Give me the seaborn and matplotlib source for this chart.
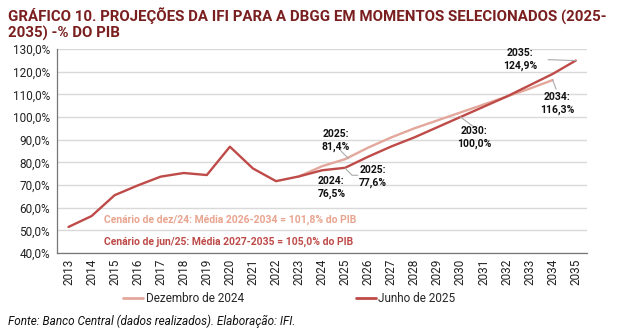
import matplotlib
matplotlib.use("Agg")
import matplotlib.pyplot as plt
import seaborn as sns
import pandas as pd
import numpy as np
from matplotlib.lines import Line2D

years_jun = list(range(2013, 2036))
vals_jun = [51.5, 56.3, 65.5, 69.8, 73.7, 75.3, 74.4, 86.9, 77.3, 71.7, 73.8, 76.5, 77.6,
            82.5, 87.0, 91.0, 95.5, 100.0, 104.5, 109.0, 114.0, 119.0, 124.9]
years_dez = list(range(2023, 2035))
vals_dez = [73.8, 78.3, 81.4, 86.5, 91.0, 95.0, 98.5, 102.0, 105.5, 109.0, 112.5, 116.3]

yticks = [40, 50, 60, 70, 80, 90, 100, 110, 120, 130]

c_jun = "#BE4B48"
c_dez = "#E3A79C"
c_title = "#7A1F1F"

sns.set_theme(style="white")
plt.rcParams['font.family'] = ['Roboto', 'DejaVu Sans']

df = pd.concat([
    pd.DataFrame({"ano": years_dez, "valor": vals_dez, "serie": "Dezembro de 2024"}),
    pd.DataFrame({"ano": years_jun, "valor": vals_jun, "serie": "Junho de 2025"}),
])

fig = plt.figure(figsize=(6.18, 3.29), dpi=100)
ax = fig.add_axes([0.0922, 0.231, 0.858, 0.620])

sns.lineplot(data=df, x="ano", y="valor", hue="serie",
             palette={"Dezembro de 2024": c_dez, "Junho de 2025": c_jun},
             linewidth=1.7, ax=ax, legend=False, sort=True)

ax.set_xlim(2012.5, 2035.5)
ax.set_ylim(40, 130)
ax.set_yticks(yticks)
ax.set_yticklabels([f"{v:.1f}%".replace(".", ",") for v in yticks], fontsize=8.5, color="#222222")
ax.yaxis.grid(True, color="#d9d9d9", linewidth=1.0)
ax.set_axisbelow(True)
ax.set_xticks(years_jun)
ax.set_xticklabels([str(y) for y in years_jun], rotation=90, fontsize=8.5, color="#222222")
ax.set_xticks(np.arange(2012.5, 2036, 1), minor=True)
ax.tick_params(axis="x", which="major", length=0, pad=4)
ax.tick_params(axis="x", which="minor", length=3, color="#555555", width=0.8, direction="out")
ax.tick_params(axis="y", length=3, color="#555555", width=0.8, direction="out", pad=2)
ax.set_xlabel("")
ax.set_ylabel("")
for s in ["top", "right"]:
    ax.spines[s].set_visible(False)
for s in ["left", "bottom"]:
    ax.spines[s].set_color("#777777")
    ax.spines[s].set_linewidth(0.9)

lead = dict(color="#aaaaaa", lw=0.8)

def ann(text, xytext):
    ax.text(xytext[0], xytext[1], text, ha="center", va="center",
            fontsize=7.5, fontweight="bold", color="#111111", linespacing=1.3)

ann("2035:\n124,9%", (2032.6, 125.3))
ax.plot([2033.8, 2035], [125.3, 124.9], **lead)
ann("2034:\n116,3%", (2034.2, 106.0))
ax.plot([2034, 2034.15], [116.3, 112.3], **lead)
ann("2030:\n100,0%", (2030.6, 91.0))
ax.plot([2030, 2030.6], [100.0, 95.5], **lead)
ann("2025:\n81,4%", (2024.6, 89.8))
ax.plot([2024.8, 2025.15], [85.2, 81.6], **lead)
ann("2025:\n77,6%", (2026.2, 73.8))
ax.plot([2025, 2025.3, 2025.55], [77.4, 74.3, 74.3], **lead)
ann("2024:\n76,5%", (2024.4, 69.0))

ax.text(2014.55, 54.5, "Cenário de dez/24: Média 2026-2034 = 101,8% do PIB",
        fontsize=7.5, fontweight="bold", color="#E8A48F", va="center", ha="left")
ax.text(2014.55, 44.8, "Cenário de jun/25: Média 2027-2035 = 105,0% do PIB",
        fontsize=7.5, fontweight="bold", color=c_jun, va="center", ha="left")

fig.text(0.013, 0.975, "GRÁFICO 10. PROJEÇÕES DA IFI PARA A DBGG EM MOMENTOS SELECIONADOS (2025-\n2035) -% DO PIB",
         fontsize=10.8, fontweight="bold", color=c_title, va="top", ha="left", linespacing=1.1)

handles = [Line2D([0], [0], color=c_dez, lw=2), Line2D([0], [0], color=c_jun, lw=2)]
fig.legend(handles, ["Dezembro de 2024", "Junho de 2025"], loc="center",
           bbox_to_anchor=(0.468, 0.092), ncol=2, frameon=False, fontsize=8.5,
           handlelength=1.7, handletextpad=0.2, columnspacing=9.5)

fig.text(0.013, 0.003, "Fonte: Banco Central (dados realizados). Elaboração: IFI.",
         fontsize=8.5, fontstyle="italic", color="#111111", va="bottom", ha="left")

fig.savefig("out.png", dpi=100)
